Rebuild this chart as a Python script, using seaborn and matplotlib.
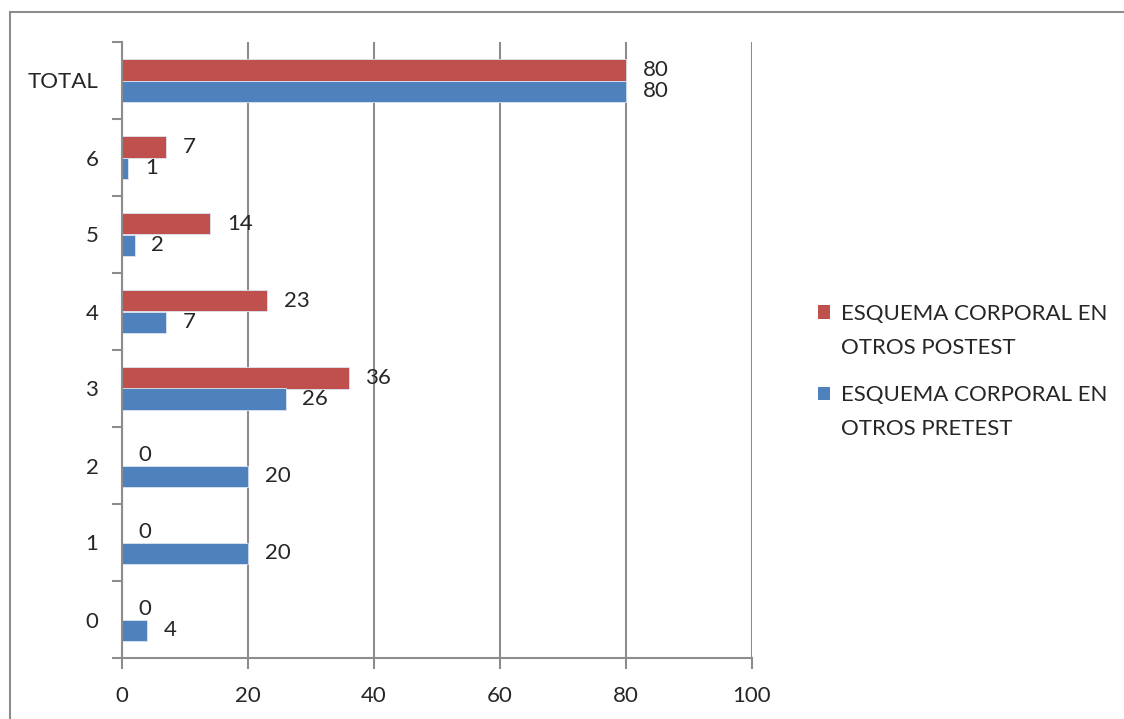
import matplotlib
matplotlib.use("Agg")
import matplotlib.pyplot as plt
import seaborn as sns
import pandas as pd
from matplotlib.patches import Rectangle
from matplotlib.legend_handler import HandlerPatch

categories = ["TOTAL", "6", "5", "4", "3", "2", "1", "0"]
postest = [80, 7, 14, 23, 36, 0, 0, 0]
pretest = [80, 1, 2, 7, 26, 20, 20, 4]
series_names = ["ESQUEMA CORPORAL EN\nOTROS POSTEST", "ESQUEMA CORPORAL EN\nOTROS PRETEST"]
series_colors = ["#C0504D", "#4F81BD"]
x_ticks = [0, 20, 40, 60, 80, 100]

sns.set_style("white")
plt.rcParams["font.family"] = ["Lato", "DejaVu Sans"]
FS = 16

df = pd.DataFrame({
    "cat": categories * 2,
    "value": postest + pretest,
    "series": [series_names[0]] * len(categories) + [series_names[1]] * len(categories),
})

fig = plt.figure(figsize=(11.24, 7.19), dpi=100)
ax = fig.add_axes([122 / 1124, 1 - 658 / 719, 630 / 1124, 616 / 719])

sns.barplot(data=df, y="cat", x="value", hue="series", order=categories,
            hue_order=series_names, palette=series_colors, orient="h",
            width=0.56, gap=0, saturation=1, errorbar=None,
            linewidth=0.6, edgecolor="#DCE6F2", ax=ax)

grid_c = "#8C8C8C"
ax.set_xlim(0, 100)
ax.set_xticks(x_ticks)
ax.set_xticklabels([str(t) for t in x_ticks], fontsize=FS)
ax.xaxis.grid(True, color=grid_c, linewidth=1.5)
ax.set_axisbelow(True)
ax.set_xlabel("")
ax.set_ylabel("")

# y ticks sit on category boundaries, labels in the middle
ax.set_ylim(len(categories) - 0.5, -0.5)
ax.set_yticks([i - 0.5 for i in range(len(categories) + 1)])
ax.set_yticklabels([""] * (len(categories) + 1))
ax.set_yticks(range(len(categories)), minor=True)
ax.set_yticklabels(categories, minor=True, fontsize=FS)
ax.tick_params(axis="y", which="major", length=7, width=1.5, color=grid_c, direction="out", left=True)
ax.tick_params(axis="y", which="minor", length=0, pad=17)
ax.tick_params(axis="x", length=8, width=1.5, color=grid_c, direction="out", bottom=True, pad=12)

for s in ["top", "right"]:
    ax.spines[s].set_visible(False)
for s in ["left", "bottom"]:
    ax.spines[s].set_color(grid_c)
    ax.spines[s].set_linewidth(1.5)

for cont in ax.containers:
    ax.bar_label(cont, labels=[f"{int(v)}" for v in cont.datavalues], padding=12, fontsize=FS)


def top_square(legend, orig_handle, xdescent, ydescent, width, height, fontsize):
    # square aligned with the first line of a two-line label
    return Rectangle((-xdescent, -ydescent + 0.85 * fontsize), width, height)


handles, labels = ax.get_legend_handles_labels()
for h in handles:
    h.set_linewidth(0)
leg = ax.legend(handles, labels, loc="upper left", bbox_to_anchor=(798 / 1124, 1 - 284 / 719),
                bbox_transform=fig.transFigure, frameon=False, fontsize=FS,
                handlelength=0.55, handleheight=0.55, handletextpad=0.5,
                labelspacing=1.25,
                handler_map={h: HandlerPatch(patch_func=top_square) for h in handles})
for t in leg.get_texts():
    t.set_linespacing(1.85)

fig.patches.append(Rectangle((10 / 1124, -0.05), 1.2, 1 - 12 / 719 + 0.05,
                             transform=fig.transFigure, fill=False,
                             edgecolor="#8C8C8C", linewidth=1.5))

fig.savefig("out.png", dpi=100)
